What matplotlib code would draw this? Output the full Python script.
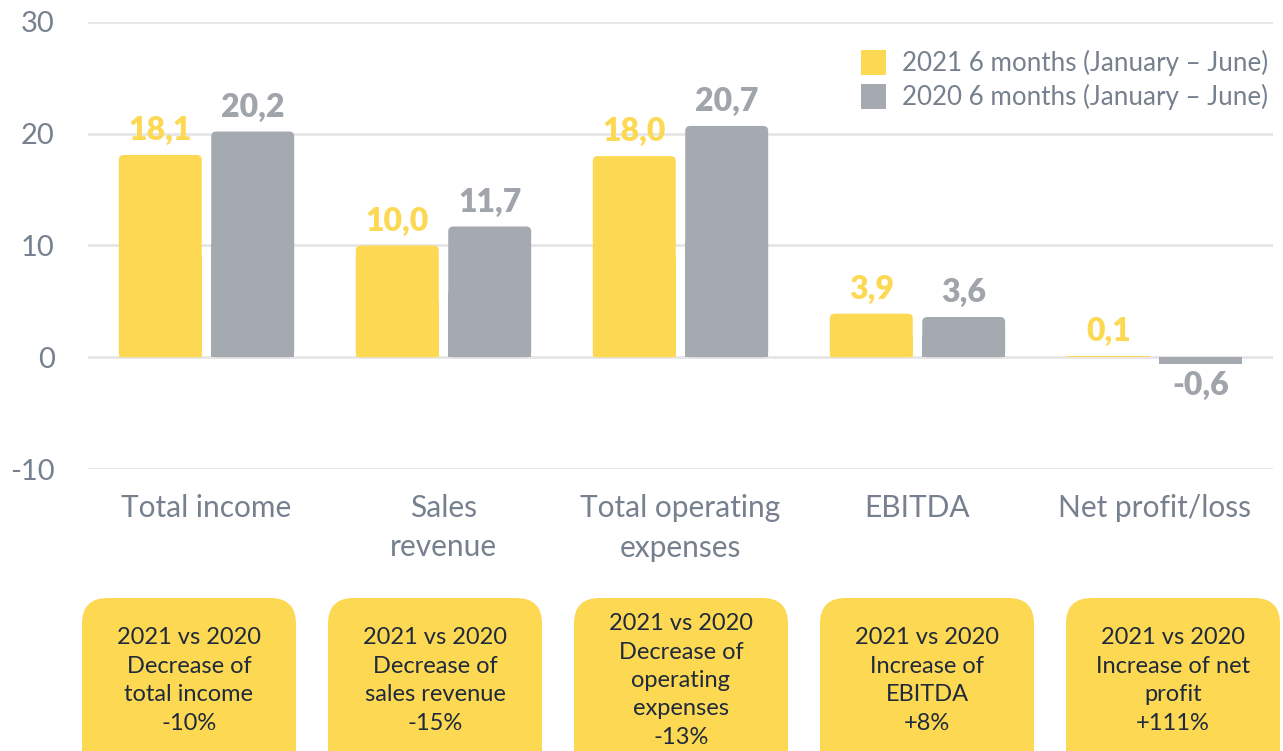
import matplotlib
matplotlib.use("Agg")
import matplotlib.pyplot as plt
from matplotlib.patches import FancyBboxPatch, Rectangle, Patch
import numpy as np

categories = ["Total income", "Sales\nrevenue", "Total operating\nexpenses", "EBITDA", "Net profit/loss"]
values_2021 = [18.1, 10.0, 18.0, 3.9, 0.1]
values_2020 = [20.2, 11.7, 20.7, 3.6, -0.6]
series_names = ["2021 6 months (January \u2013 June)", "2020 6 months (January \u2013 June)"]
yticks = [-10, 0, 10, 20, 30]
box_texts = [
    "2021 vs 2020\nDecrease of\ntotal income\n-10%",
    "2021 vs 2020\nDecrease of\nsales revenue\n-15%",
    "2021 vs 2020\nDecrease of\noperating\nexpenses\n-13%",
    "2021 vs 2020\nIncrease of\nEBITDA\n+8%",
    "2021 vs 2020\nIncrease of net\nprofit\n+111%",
]

YELLOW = "#FDD853"
GRAY = "#A5A9B0"
GRAY_TXT = "#A0A4AB"
AXIS_TXT = "#76808E"
DARK = "#1F2A3A"

plt.rcParams['font.family'] = ['Lato', 'DejaVu Sans']

W, H = 1283, 751
fig = plt.figure(figsize=(W / 100, H / 100), dpi=100)
ax = fig.add_axes([88 / W, 1 - 469 / H, (1273 - 88) / W, (469 - 22) / H])

x = np.arange(len(categories))
bw = 0.35
off = 0.195

ax.set_xlim(-0.5, 4.5)
ax.set_ylim(-10, 30)

px_x = 1 / 237.0
px_y = 1 / 11.17
r = 5
def rounded_bars(bars, color):
    for b in bars:
        b.set_visible(False)
        x0 = b.get_x(); w = b.get_width(); h = b.get_height(); y0 = b.get_y()
        top = y0 + h
        ylo, yhi = min(y0, top), max(y0, top)
        if abs(h) * 11.17 < 2 * r + 1:
            ax.add_patch(Rectangle((x0, ylo), w, yhi - ylo, color=color, lw=0, zorder=3))
            continue
        fb = FancyBboxPatch((x0, ylo), w, yhi - ylo,
                            boxstyle=f"round,pad=0,rounding_size={r * px_x}",
                            mutation_aspect=px_y / px_x, fc=color, ec="none", zorder=3)
        ax.add_patch(fb)
        if h >= 0:
            ax.add_patch(Rectangle((x0, ylo), w, (yhi - ylo) / 2, color=color, lw=0, zorder=3))
        else:
            ax.add_patch(Rectangle((x0, (ylo + yhi) / 2), w, (yhi - ylo) / 2, color=color, lw=0, zorder=3))

b1 = ax.bar(x - off, values_2021, bw, color=YELLOW, zorder=3)
b2 = ax.bar(x + off, values_2020, bw, color=GRAY, zorder=3)
rounded_bars(b1, YELLOW)
rounded_bars(b2, GRAY)

def fmt(v):
    return f"{v:.1f}".replace(".", ",")

for bars, vals, c in ((b1, values_2021, YELLOW), (b2, values_2020, GRAY_TXT)):
    for b, v in zip(bars, vals):
        cx = b.get_x() + b.get_width() / 2
        if v >= 0:
            ax.annotate(fmt(v), (cx, v), xytext=(0, 7), textcoords="offset points",
                        ha="center", va="bottom", fontsize=23, fontweight="heavy", color=c, zorder=4)
        else:
            ax.annotate(fmt(v), (cx, v), xytext=(0, -5), textcoords="offset points",
                        ha="center", va="top", fontsize=23, fontweight="heavy", color=c, zorder=4)

ax.set_yticks(yticks)
ax.set_yticklabels([str(t) for t in yticks], fontsize=21, color=AXIS_TXT)
ax.yaxis.grid(True, color="#E6E6E6", lw=2)
ax.set_axisbelow(True)
ax.tick_params(axis="y", length=0, pad=24)
ax.set_xticks(x)
ax.set_xticklabels(categories, fontsize=21.5, color=AXIS_TXT, linespacing=1.5)
ax.tick_params(axis="x", length=0, pad=18)
for s in ax.spines.values():
    s.set_visible(False)

handles = [Patch(facecolor=YELLOW, edgecolor="none"), Patch(facecolor=GRAY, edgecolor="none")]
leg = ax.legend(handles, series_names, loc="upper right", bbox_to_anchor=(1.005, 0.961), frameon=False,
                fontsize=18.7, handlelength=0.95, handleheight=1.1, handletextpad=0.65,
                labelspacing=0.3, borderaxespad=0.0)
for t in leg.get_texts():
    t.set_color(AXIS_TXT)

bx0 = 82; bwid = 214; bstep = 246; btop = 598; bbot = 780
for i, txt in enumerate(box_texts):
    left = bx0 + i * bstep
    p = FancyBboxPatch((left / W, 1 - bbot / H), bwid / W, (bbot - btop) / H,
                       boxstyle="round,pad=0,rounding_size=0.02", mutation_aspect=W / H,
                       transform=fig.transFigure, fc=YELLOW, ec="none")
    fig.add_artist(p)
    fig.text((left + bwid / 2) / W, 1 - 680.5 / H, txt, ha="center", va="center",
             fontsize=17, color=DARK, linespacing=1.44)

fig.savefig("out.png", dpi=100)
